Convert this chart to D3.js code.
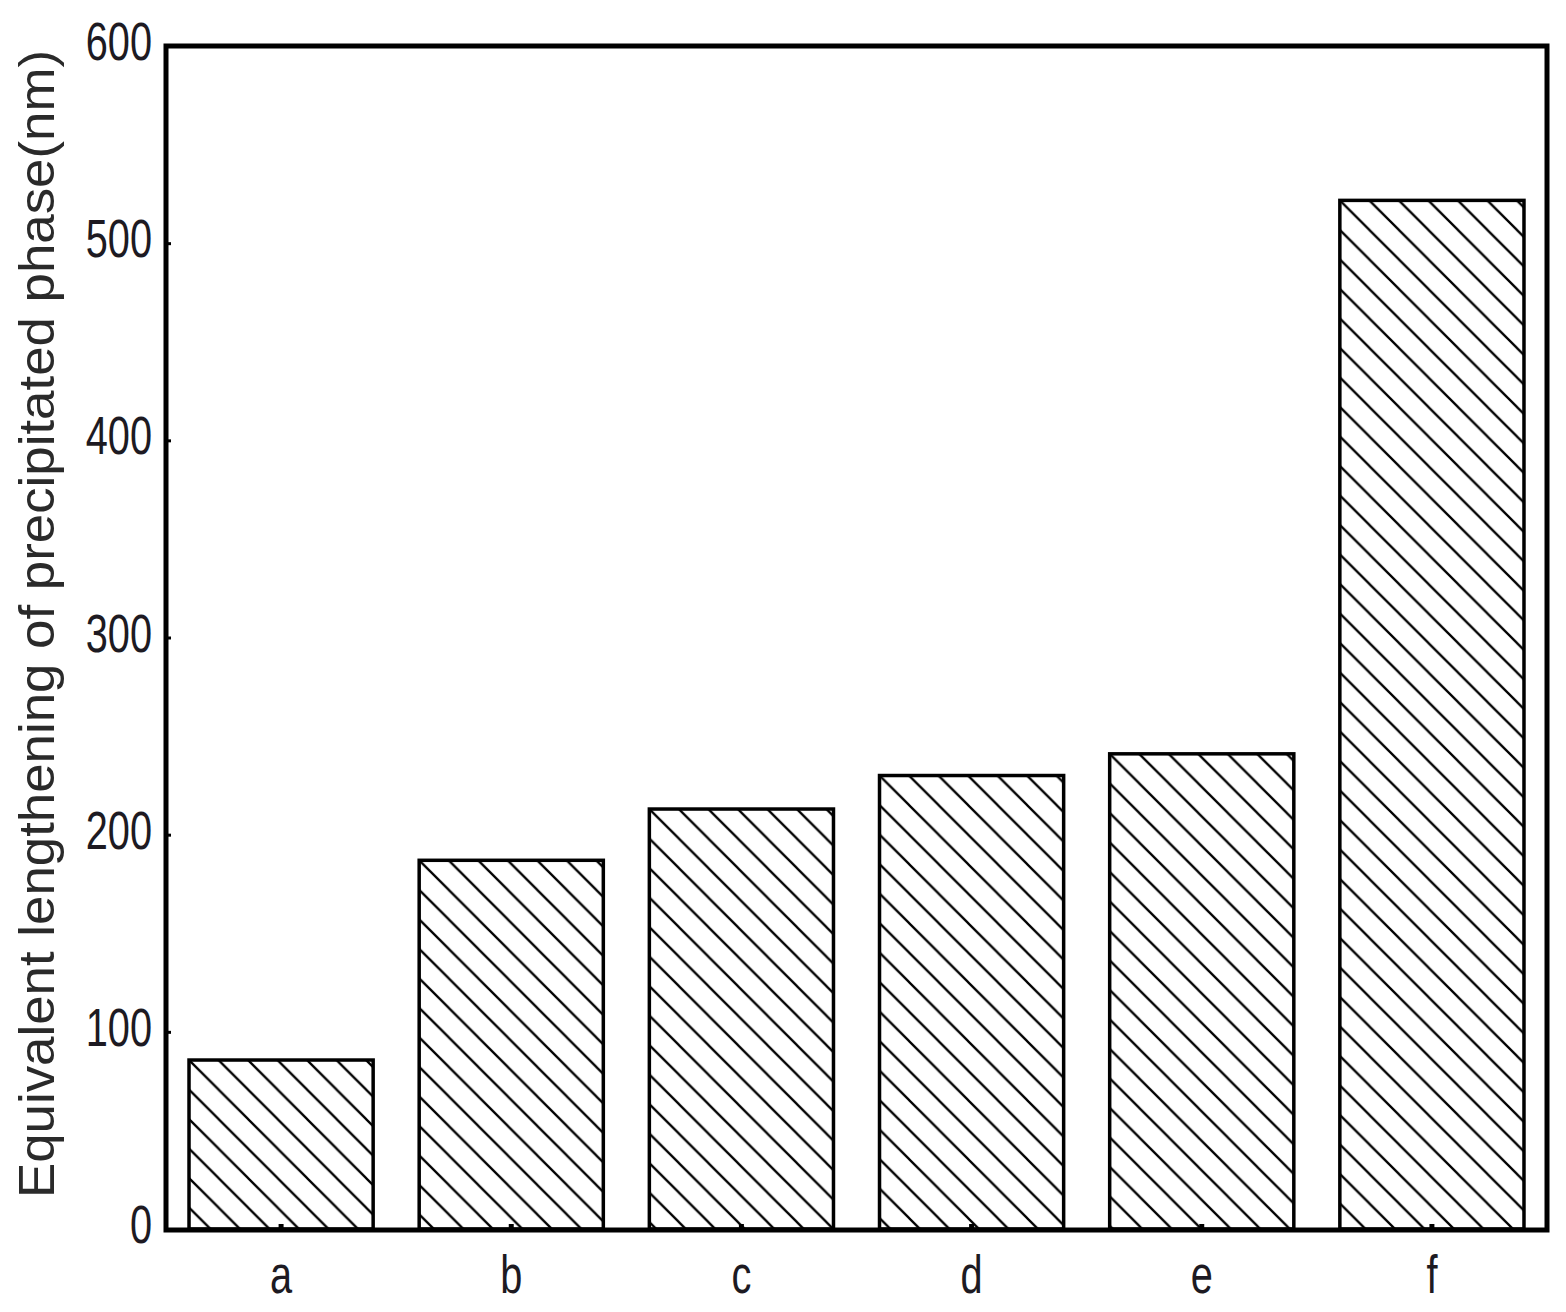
<!DOCTYPE html>
<html>
<head>
<meta charset="utf-8">
<script src="https://cdn.jsdelivr.net/npm/d3@7"></script>
<style>
  html, body { margin: 0; padding: 0; background: #fff; }
  svg { display: block; }
</style>
</head>
<body>
<svg id="chart" width="1566" height="1312"></svg>
<script>
const categories = ["a", "b", "c", "d", "e", "f"];
const values = [85.7, 187, 213, 230, 241, 521.7];
const yTicks = [0, 100, 200, 300, 400, 500, 600];
const yTitle = "Equivalent lengthening of precipitated phase(nm)";

(function () {
const svg = d3.select("#chart");
const pLeft = 166, pRight = 1547, pTop = 46, pBottom = 1229;
const font = "'Liberation Sans', Arial, sans-serif";

const x = d3.scaleBand().domain(categories).range([pLeft, pRight])
  .paddingInner(0.2).paddingOuter(0.1);
const y = d3.scaleLinear().domain([0, 600]).range([pBottom, pTop]);

// hatch pattern
const defs = svg.append("defs");
const tile = 29.5;
const pat = defs.append("pattern").attr("id", "hatch")
  .attr("patternUnits", "userSpaceOnUse")
  .attr("width", tile).attr("height", tile);
pat.append("path")
  .attr("d", `M0,0 L${tile},${tile} M-2,${tile-2} L2,${tile+2} M${tile-2},-2 L${tile+2},2`)
  .attr("stroke", "#000").attr("stroke-width", 2.3).attr("fill", "none");

// bars
const bars = svg.append("g").selectAll("g").data(categories).join("g")
  .attr("transform", (d, i) => `translate(${x(d)},${y(values[i])})`);
bars.append("rect")
  .attr("x", 0).attr("y", 0)
  .attr("width", x.bandwidth())
  .attr("height", (d, i) => y(0) - y(values[i]))
  .attr("fill", "url(#hatch)");
bars.append("rect")
  .attr("x", 0).attr("y", 0)
  .attr("width", x.bandwidth())
  .attr("height", (d, i) => y(0) - y(values[i]))
  .attr("fill", "none").attr("stroke", "#000").attr("stroke-width", 3.5);

// y axis
const yAxis = svg.append("g").attr("transform", `translate(${pLeft},0)`)
  .call(d3.axisLeft(y).tickValues(yTicks).tickSize(-5).tickPadding(0));
yAxis.select(".domain").remove();
yAxis.selectAll(".tick line").attr("stroke", "#000").attr("stroke-width", 3);
yAxis.selectAll(".tick text")
  .attr("x", 0).attr("dy", "0.35em")
  .attr("transform", "translate(-14,-5) scale(0.75,1)")
  .attr("font-family", font).attr("font-size", 53)
  .attr("fill", "#1d1a22").attr("text-anchor", "end");

// x axis
const xAxis = svg.append("g").attr("transform", `translate(0,${pBottom + 1})`)
  .call(d3.axisBottom(x).tickSize(-6).tickPadding(0));
xAxis.select(".domain").remove();
xAxis.selectAll(".tick line").attr("stroke", "#000").attr("stroke-width", 5);
xAxis.selectAll(".tick text")
  .attr("y", 0).attr("dy", 0)
  .attr("transform", "translate(0,63) scale(0.75,1)")
  .attr("font-family", font).attr("font-size", 53)
  .attr("fill", "#1d1a22").attr("text-anchor", "middle");

// frame
svg.append("rect")
  .attr("x", pLeft).attr("y", pTop)
  .attr("width", pRight - pLeft).attr("height", pBottom + 1 - pTop)
  .attr("fill", "none").attr("stroke", "#000").attr("stroke-width", 5);

// y title
svg.append("text")
  .attr("transform", `translate(54,${(50 + 1198) / 2}) rotate(-90)`)
  .attr("text-anchor", "middle")
  .attr("font-family", font).attr("font-size", 50)
  .attr("fill", "#2a2a2a")
  .attr("textLength", 1148).attr("lengthAdjust", "spacingAndGlyphs")
  .text(yTitle);
})();
</script>
</body>
</html>
